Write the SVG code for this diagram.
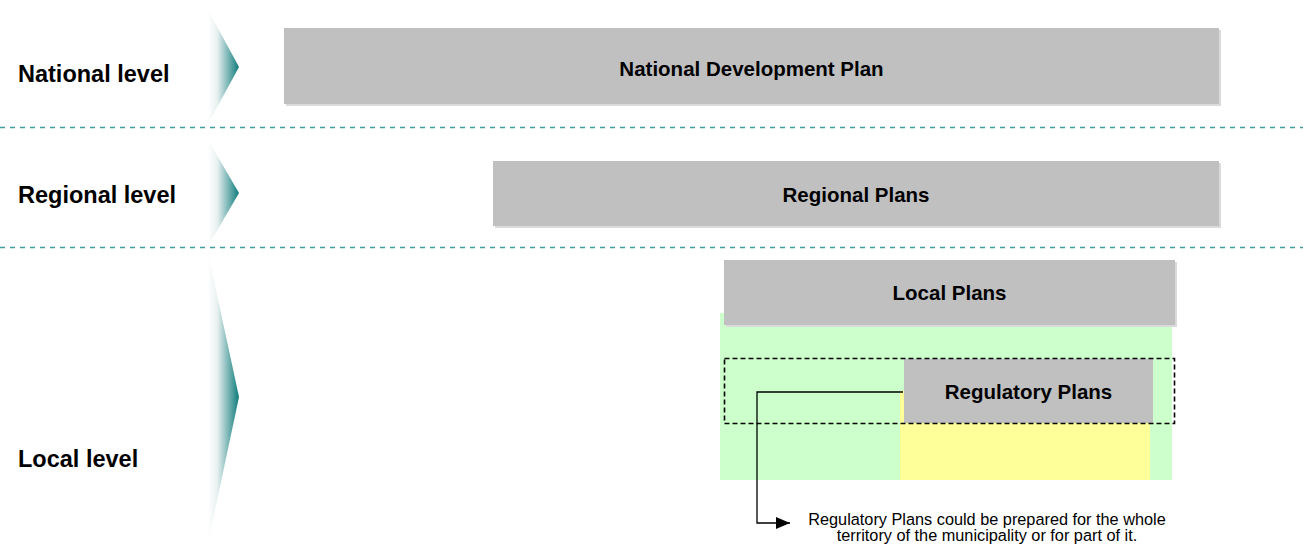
<svg xmlns="http://www.w3.org/2000/svg" width="1303" height="549" viewBox="0 0 1303 549">
<defs>
<linearGradient id="chev" x1="0" y1="0" x2="1" y2="0">
<stop offset="0" stop-color="#ffffff"/>
<stop offset="0.3" stop-color="#e8f0f0"/>
<stop offset="1" stop-color="#0e7b7b"/>
</linearGradient>
<marker id="arr" viewBox="0 0 14 12" refX="14" refY="6" markerWidth="14" markerHeight="12" markerUnits="userSpaceOnUse" orient="auto">
<path d="M0,0 L14,6 L0,12 z" fill="#000"/>
</marker>
</defs>
<style>
.lvl{font-family:"Liberation Sans",Arial,sans-serif;font-weight:bold;font-size:23.5px;fill:#000}
.bt{font-family:"Liberation Sans",Arial,sans-serif;font-weight:bold;font-size:20.5px;fill:#000;text-anchor:middle}
.box{fill:#c0c0c0}
.sh{fill:#dadada}
.sep{stroke:#3f9e9e;stroke-width:1.3;stroke-dasharray:5,5;fill:none}
.note{font-family:"Liberation Sans",Arial,sans-serif;font-size:16.3px;fill:#000;text-anchor:middle}
</style>
<rect width="1303" height="549" fill="#fff"/>
<g id="levels">
<polygon points="208,10 239,67 208,124" fill="url(#chev)"/>
<polygon points="208,140 239,193 208,246" fill="url(#chev)"/>
<polygon points="208,253 239,397 208,543" fill="url(#chev)"/>
<text class="lvl" x="18" y="82">National level</text>
<text class="lvl" x="18" y="203">Regional level</text>
<text class="lvl" x="18" y="467">Local level</text>
</g>
<g id="separators">
<line class="sep" x1="0" y1="127.5" x2="1303" y2="127.5"/>
<line class="sep" x1="0" y1="247.5" x2="1303" y2="247.5"/>
</g>
<g id="national">
<rect class="sh" x="286" y="30" width="935" height="76"/>
<rect class="box" x="284" y="28" width="935" height="76"/>
<text class="bt" x="751.5" y="76">National Development Plan</text>
</g>
<g id="regional">
<rect class="sh" x="495" y="163" width="726" height="65"/>
<rect class="box" x="493" y="161" width="726" height="65"/>
<text class="bt" x="856" y="202">Regional Plans</text>
</g>
<g id="areas">
<rect x="720" y="313" width="452" height="167" fill="#ccffcc"/>
<rect x="900" y="391" width="250" height="89" fill="#ffff99"/>
</g>
<g id="local">
<rect class="sh" x="726" y="262" width="451" height="65"/>
<rect class="box" x="724" y="260" width="451" height="65"/>
<text class="bt" x="949.5" y="300">Local Plans</text>
</g>
<g id="regulatory">
<rect class="box" x="904" y="359" width="249" height="64"/>
<text class="bt" x="1028.5" y="399">Regulatory Plans</text>
</g>
<g id="scope">
<rect x="724.5" y="358.5" width="450" height="65" fill="none" stroke="#000" stroke-width="1.6" stroke-dasharray="5,3"/>
</g>
<g id="connectors">
<polyline points="903,392 757,392 757,523 790,523" fill="none" stroke="#000" stroke-width="1.3" marker-end="url(#arr)"/>
</g>
<g id="note">
<text class="note" x="987" y="525">Regulatory Plans could be prepared for the whole</text>
<text class="note" x="987" y="541">territory of the municipality or for part of it.</text>
</g>
</svg>
